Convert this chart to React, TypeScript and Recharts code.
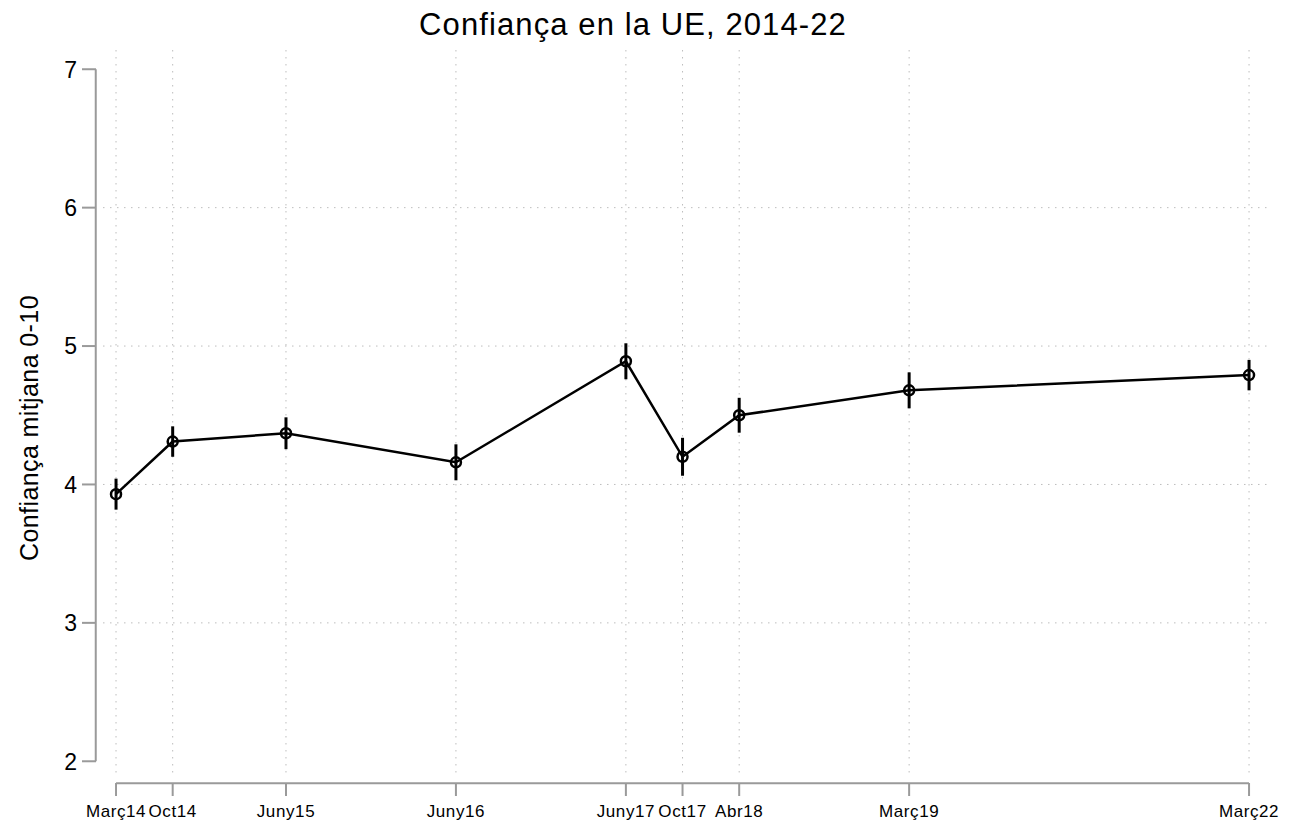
import { CartesianGrid, ErrorBar, Line, LineChart, ReferenceLine, XAxis, YAxis } from "recharts";

const FONT = "'Liberation Sans', Arial, Helvetica, sans-serif";
const AXIS = "#9a9a9a";

// waves, in thirds of a year from March 2014
const waves = ["Març14", "Oct14", "Juny15", "Juny16", "Juny17", "Oct17", "Abr18", "Març19", "Març22"];
const wavePos = [0, 1, 3, 6, 9, 10, 11, 14, 20];
const meanTrust = [3.93, 4.31, 4.37, 4.16, 4.89, 4.2, 4.5, 4.68, 4.79];
const ci = [0.112, 0.11, 0.115, 0.13, 0.13, 0.137, 0.126, 0.13, 0.11];
const yTicks = [2, 3, 4, 5, 6, 7];
const yGrid = [3, 4, 5, 6];

const data = waves.map((w, i) => ({ t: wavePos[i], label: w, mean: meanTrust[i], err: ci[i] }));

function XTick(props: { x?: number; y?: number; payload?: { value: number } }) {
  const { x = 0, y = 0, payload } = props;
  const idx = wavePos.indexOf(payload?.value ?? -1);
  return (
    <g>
      <line x1={x} x2={x} y1={y + 9} y2={y + 22} stroke={AXIS} strokeWidth={2} />
      <text
        x={x}
        y={y + 43}
        textAnchor="middle"
        fontSize={17}
        letterSpacing={0.6}
        fill="#000"
        fontFamily={FONT}
      >
        {waves[idx]}
      </text>
    </g>
  );
}

function YTick(props: { x?: number; y?: number; payload?: { value: number } }) {
  const { x = 0, y = 0, payload } = props;
  return (
    <g>
      <line x1={x - 21} x2={x - 7} y1={y} y2={y} stroke={AXIS} strokeWidth={2} />
      <text x={x - 26} y={y} dy="0.36em" textAnchor="end" fontSize={23} fill="#000" fontFamily={FONT}>
        {payload?.value}
      </text>
    </g>
  );
}

function Ring(props: { cx?: number; cy?: number }) {
  const { cx = 0, cy = 0 } = props;
  return <circle cx={cx} cy={cy} r={5} fill="none" stroke="#000" strokeWidth={2.5} />;
}

export default function App() {
  return (
    <div style={{ position: "absolute", left: 0, top: 0, width: 1296, height: 820, background: "#fff" }}>
      <LineChart
        width={1296}
        height={820}
        data={data}
        margin={{ top: 50, right: 26, left: 43, bottom: 0 }}
      >
        <CartesianGrid
          stroke="#bdbdbd"
          strokeDasharray="1.5 5.5"
          horizontalValues={yGrid}
          verticalValues={wavePos}
        />
        <XAxis
          type="number"
          dataKey="t"
          domain={[-0.23, 20.37]}
          ticks={wavePos}
          interval={0}
          height={46}
          axisLine={false}
          tickLine={false}
          tickSize={0}
          tickMargin={0}
          tick={<XTick />}
        />
        <YAxis
          type="number"
          domain={[1.908, 7.139]}
          ticks={yTicks}
          interval={0}
          width={60}
          axisLine={false}
          tickLine={false}
          tickSize={0}
          tickMargin={0}
          tick={<YTick />}
        />
        <ReferenceLine
          segment={[{ x: -0.358, y: 2 }, { x: -0.358, y: 7 }]}
          ifOverflow="visible"
          stroke={AXIS}
          strokeWidth={2}
        />
        <ReferenceLine
          segment={[{ x: 0, y: 1.841 }, { x: 20, y: 1.841 }]}
          ifOverflow="visible"
          stroke={AXIS}
          strokeWidth={2}
        />
        <Line
          type="linear"
          dataKey="mean"
          stroke="#000"
          strokeWidth={2.5}
          dot={<Ring />}
          activeDot={false}
          isAnimationActive={false}
        >
          <ErrorBar dataKey="err" width={0} stroke="#000" strokeWidth={3} isAnimationActive={false} />
        </Line>
      </LineChart>
      <svg width={1296} height={820} style={{ position: "absolute", left: 0, top: 0, pointerEvents: "none" }}>
        <text
          x={633}
          y={35}
          textAnchor="middle"
          fontSize={31}
          letterSpacing={1.1}
          fontFamily={FONT}
          fill="#000"
        >
          Confiança en la UE, 2014-22
        </text>
        <text
          x={0}
          y={0}
          transform="translate(38 428) rotate(-90)"
          textAnchor="middle"
          fontSize={25}
          letterSpacing={0.4}
          fontFamily={FONT}
          fill="#000"
        >
          Confiança mitjana 0-10
        </text>
      </svg>
    </div>
  );
}
